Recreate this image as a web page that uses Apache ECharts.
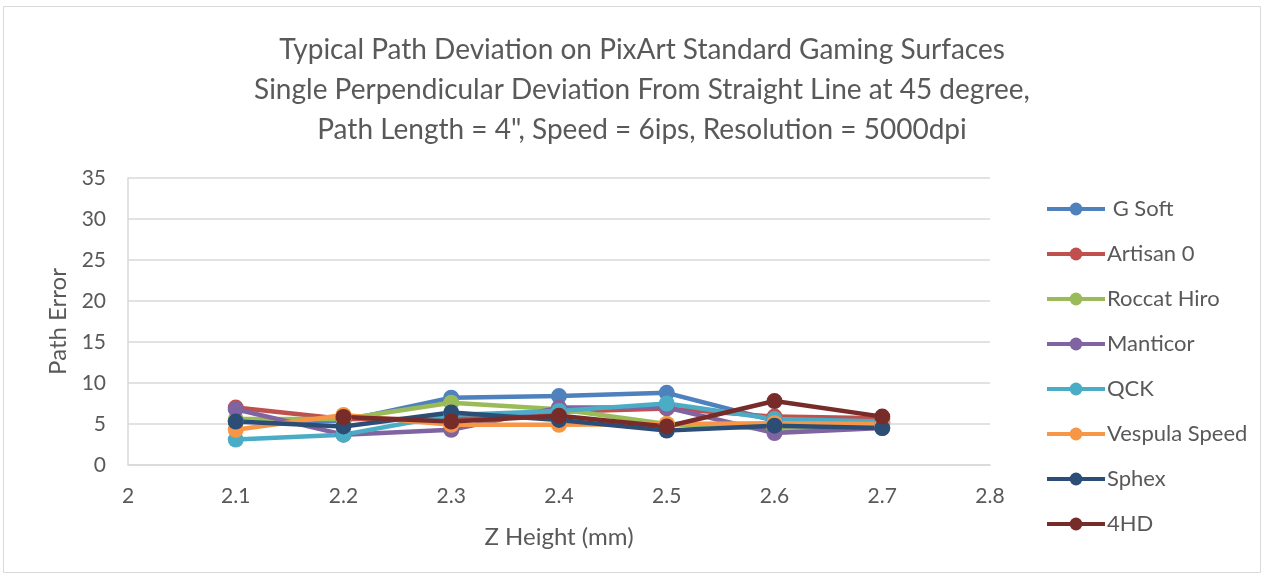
<!DOCTYPE html>
<html>
<head>
<meta charset="utf-8">
<script src="https://cdn.jsdelivr.net/npm/echarts@6/dist/echarts.min.js"></script>
<style>
  html, body { margin: 0; padding: 0; background: #fff; }
  #chart { width: 1265px; height: 578px; }
</style>
</head>
<body>
<div id="chart"></div>
<script>
const zHeights = [2.1, 2.2, 2.3, 2.4, 2.5, 2.6, 2.7];

const gSoft = [5.3, 5.4, 8.2, 8.4, 8.8, 5.4, 5.2];
const artisan0 = [7.0, 5.6, 5.6, 6.5, 6.9, 5.9, 5.7];
const roccatHiro = [5.6, 5.6, 7.6, 6.8, 5.0, 4.4, 4.7];
const manticor = [6.8, 3.7, 4.3, 7.0, 7.0, 3.9, 4.5];
const qck = [3.1, 3.7, 6.1, 6.6, 7.5, 5.6, 5.3];
const vespulaSpeed = [4.3, 6.1, 4.9, 4.9, 5.0, 5.1, 5.0];
const sphex = [5.3, 4.7, 6.4, 5.5, 4.2, 4.8, 4.5];
const hd4 = [null, 5.85, 5.3, 6.0, 4.7, 7.8, 5.9];

const seriesDefs = [
    { name: ' G Soft', data: gSoft, color: '#4F81BD' },
    { name: 'Artisan 0', data: artisan0, color: '#C0504D' },
    { name: 'Roccat Hiro', data: roccatHiro, color: '#9BBB59' },
    { name: 'Manticor', data: manticor, color: '#8064A2' },
    { name: 'QCK', data: qck, color: '#4BACC6' },
    { name: 'Vespula Speed', data: vespulaSpeed, color: '#F79646' },
    { name: 'Sphex', data: sphex, color: '#2C4D75' },
    { name: '4HD', data: hd4, color: '#772C2A' }
];

const textColor = '#595959';
const fontFamily = 'Lato, "Open Sans", sans-serif';

const chart = echarts.init(document.getElementById('chart'));

chart.setOption({
    animation: false,
    textStyle: { fontFamily: fontFamily, color: textColor },
    title: {
        text: 'Typical Path Deviation on PixArt Standard Gaming Surfaces\nSingle Perpendicular Deviation From Straight Line at 45 degree,\nPath Length = 4", Speed = 6ips, Resolution = 5000dpi',
        left: 637,
        top: 25,
        textAlign: 'center',
        textStyle: { fontFamily: fontFamily, fontWeight: 400, fontSize: 28, lineHeight: 40, color: textColor }
    },
    graphic: [{
        type: 'rect',
        shape: { x: 3.5, y: 6.5, width: 1257, height: 566 },
        style: { fill: 'none', stroke: '#d9d9d9', lineWidth: 1 },
        silent: true
    }],
    legend: {
        orient: 'vertical',
        left: 1040,
        top: 193,
        itemWidth: 58,
        itemHeight: 16,
        itemGap: 23,
        lineStyle: { width: 4 },
        textStyle: { fontFamily: fontFamily, fontSize: 22, color: textColor, padding: [0, 0, 0, -3] },
        data: seriesDefs.map(s => s.name)
    },
    grid: { left: 128, right: 275, top: 178, bottom: 113 },
    xAxis: {
        type: 'value',
        min: 2,
        max: 2.8,
        interval: 0.1,
        name: 'Z Height (mm)',
        nameLocation: 'middle',
        nameGap: 60,
        nameTextStyle: { fontFamily: fontFamily, fontSize: 24, color: textColor },
        axisLine: { show: true, lineStyle: { color: '#d9d9d9', width: 1.5 } },
        axisTick: { show: false },
        splitLine: { show: false },
        axisLabel: { fontSize: 21, color: textColor, margin: 21, formatter: v => Math.round(v * 10) / 10 }
    },
    yAxis: {
        type: 'value',
        min: 0,
        max: 35,
        interval: 5,
        name: 'Path Error',
        nameLocation: 'middle',
        nameGap: 57,
        nameTextStyle: { fontFamily: fontFamily, fontSize: 24, color: textColor },
        axisLine: { show: true, lineStyle: { color: '#d9d9d9', width: 1.5 } },
        axisTick: { show: false },
        splitLine: { lineStyle: { color: '#d9d9d9', width: 1.5 } },
        axisLabel: { fontSize: 21, color: textColor, margin: 22 }
    },
    series: seriesDefs.map(s => ({
        name: s.name,
        type: 'line',
        data: zHeights.map((x, i) => [x, s.data[i]]),
        color: s.color,
        symbol: 'circle',
        symbolSize: 16,
        showSymbol: true,
        connectNulls: false,
        lineStyle: { width: 4.5, color: s.color },
        itemStyle: { color: s.color }
    }))
});
</script>
</body>
</html>
